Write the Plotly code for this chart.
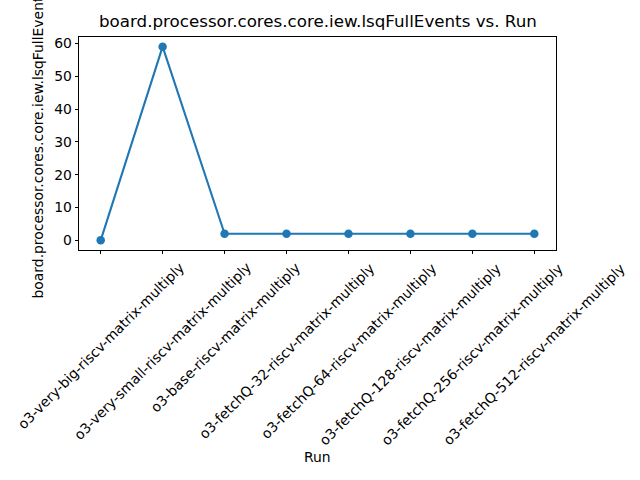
import plotly.graph_objects as go

runs = [
    "o3-very-big-riscv-matrix-multiply",
    "o3-very-small-riscv-matrix-multiply",
    "o3-base-riscv-matrix-multiply",
    "o3-fetchQ-32-riscv-matrix-multiply",
    "o3-fetchQ-64-riscv-matrix-multiply",
    "o3-fetchQ-128-riscv-matrix-multiply",
    "o3-fetchQ-256-riscv-matrix-multiply",
    "o3-fetchQ-512-riscv-matrix-multiply",
]
values = [0, 59, 2, 2, 2, 2, 2, 2]
y_ticks = [0, 10, 20, 30, 40, 50, 60]

title = "board.processor.cores.core.iew.lsqFullEvents vs. Run"
y_title = "board.processor.cores.core.iew.lsqFullEvents"
x_title = "Run"

FONT = "DejaVu Sans"
FS = 13.9
color = "#1f77b4"

xs = list(range(len(runs)))
fig = go.Figure()
fig.add_trace(go.Scatter(
    x=xs, y=values, mode="lines+markers",
    line=dict(color=color, width=2.1),
    marker=dict(color=color, size=8.5),
    showlegend=False,
))

n = len(runs)
pad_x = 0.05 * (n - 1)
ymin, ymax = min(values), max(values)
pad_y = 0.05 * (ymax - ymin)

annotations = []
for i, r in enumerate(runs):
    annotations.append(dict(
        text=r, x=i, xref="x", y=0, yref="paper",
        xanchor="center", yanchor="top", yshift=-7,
        textangle=-45, showarrow=False,
        font=dict(family=FONT, size=FS, color="black"),
    ))
annotations.append(dict(
    text=y_title, x=-0.086, xref="paper", y=0.5, yref="paper",
    xanchor="center", yanchor="middle", textangle=-90, showarrow=False,
    font=dict(family=FONT, size=FS, color="black"),
))
annotations.append(dict(
    text=x_title, x=0.5, xref="paper", y=-0.972, yref="paper",
    xanchor="center", yanchor="middle", showarrow=False,
    font=dict(family=FONT, size=FS, color="black"),
))
annotations.append(dict(
    text=title, x=0.5, xref="paper", y=1, yref="paper",
    xanchor="center", yanchor="bottom", yshift=4, showarrow=False,
    font=dict(family=FONT, size=16.7, color="black"),
))

fig.update_layout(
    width=640, height=480,
    margin=dict(l=79, r=84, t=37, b=230),
    paper_bgcolor="white", plot_bgcolor="white",
    font=dict(family=FONT, size=FS, color="black"),
    annotations=annotations,
    xaxis=dict(
        range=[-pad_x, n - 1 + pad_x], tickmode="array", tickvals=xs,
        showticklabels=False, ticks="outside", ticklen=3.5, tickwidth=0.8,
        tickcolor="black", showline=True, linecolor="black", linewidth=0.8,
        mirror=True, showgrid=False, zeroline=False,
    ),
    yaxis=dict(
        range=[ymin - pad_y, ymax + pad_y], tickmode="array", tickvals=y_ticks,
        ticks="outside", ticklen=3.5, tickwidth=0.8, tickcolor="black",
        showline=True, linecolor="black", linewidth=0.8, mirror=True,
        showgrid=False, zeroline=False,
        tickfont=dict(family=FONT, size=FS, color="black"),
    ),
)

fig.write_html("out.html")
